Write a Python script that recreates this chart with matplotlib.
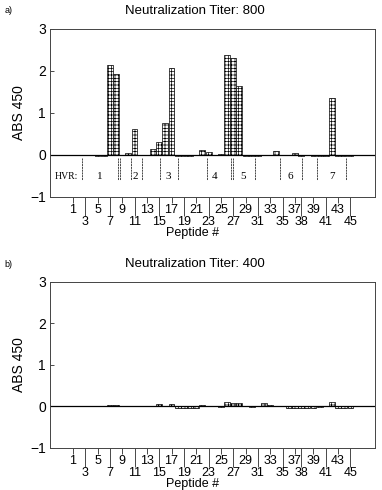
import numpy as np
import matplotlib
matplotlib.use('Agg')
import matplotlib.pyplot as plt

plt.rcParams['font.family'] = ['Liberation Sans', 'DejaVu Sans']
plt.rcParams['hatch.linewidth'] = 0.5

# peptide slots along the x axis (one extra slot after 38)
slots = np.arange(1, 47)

# labelled slots: top row and bottom row of tick labels
top_pos = [1, 5, 9, 13, 17, 21, 25, 29, 33, 37, 40, 44]
top_lab = ['1', '5', '9', '13', '17', '21', '25', '29', '33', '37', '39', '43']
bot_pos = [3, 7, 11, 15, 19, 23, 27, 31, 35, 38, 42, 46]
bot_lab = ['3', '7', '11', '15', '19', '23', '27', '31', '35', '38', '41', '45']

# ABS 450, titer 800
abs_800 = [0.0, 0.0, 0.0, -0.01, -0.02, -0.02, 2.15, 1.93, 0.0, 0.04,
           0.62, 0.0, 0.0, 0.14, 0.32, 0.75, 2.07, -0.02, -0.02, -0.02,
           -0.01, 0.12, 0.06, 0.0, 0.02, 2.37, 2.30, 1.63, -0.03, -0.03,
           -0.03, 0.0, 0.01, 0.10, 0.0, 0.0, 0.05, -0.02, 0.0, -0.03,
           -0.03, -0.02, 1.35, -0.03, -0.03, -0.02]

# ABS 450, titer 400
abs_400 = [0.0, 0.0, 0.0, 0.0, 0.0, 0.0, 0.03, 0.03, 0.0, 0.0,
           0.02, 0.0, 0.0, 0.02, 0.05, 0.0, 0.05, -0.03, -0.03, -0.03,
           -0.03, 0.04, 0.02, 0.0, -0.01, 0.10, 0.09, 0.08, 0.0, -0.02,
           0.0, 0.08, 0.03, 0.02, 0.0, -0.03, -0.03, -0.03, -0.03, -0.03,
           -0.02, 0.0, 0.10, -0.04, -0.04, -0.03]

# hypervariable regions: boundaries and label centres
hvr_bounds = [2.5, 8.3, 8.6, 10.4, 12.2, 15.1, 18.0, 22.7, 26.6, 26.9,
              30.5, 34.5, 38.1, 40.5, 45.2]
hvr_names = ['1', '2', '3', '4', '5', '6', '7']
hvr_centres = [5.4, 11.2, 16.4, 24.0, 28.6, 36.3, 43.1]

fig = plt.figure(figsize=(3.82, 4.90), dpi=100)


def panel(rect, vals):
    ax = fig.add_axes(rect)
    ax.bar(slots, vals, width=0.95, color='white', edgecolor='black',
           hatch='+++++', linewidth=0.5)
    ax.axhline(0, color='black', linewidth=0.9)
    ax.set_xlim(-2.7, 50)
    ax.set_ylim(-1, 3)
    ax.set_yticks([-1, 0, 1, 2, 3])
    ax.set_yticklabels(['\u22121', '0', '1', '2', '3'])
    ax.tick_params(axis='y', direction='in', length=3, width=0.5,
                   labelsize=10, pad=3)
    ax.set_xticks(top_pos)
    ax.set_xticklabels(top_lab)
    ax.set_xticks(bot_pos, minor=True)
    ax.set_xticklabels(bot_lab, minor=True)
    ax.tick_params(axis='x', which='major', direction='out', length=4,
                   width=0.5, labelsize=9, pad=1)
    ax.tick_params(axis='x', which='minor', direction='out', length=14,
                   width=0.5, labelsize=9, pad=0)
    for s in ax.spines.values():
        s.set_linewidth(0.7)
        s.set_color('#444444')
    ax.set_ylabel('ABS 450', fontsize=10)
    ax.yaxis.set_label_coords(-0.075, 0.5)
    return ax


ax1 = panel([0.131, 0.598, 0.851, 0.343], abs_800)
ax1.text(0.0, -0.52, 'HVR:', family='Liberation Serif', fontsize=7,
         ha='center', va='center')
for xb in hvr_bounds:
    ax1.plot([xb, xb], [-0.07, -0.6], color='black', linewidth=0.5,
             linestyle=(0, (3, 1)))
for name, xc in zip(hvr_names, hvr_centres):
    ax1.text(xc, -0.52, name, family='Liberation Serif', fontsize=8,
             ha='center', va='center')

ax2 = panel([0.131, 0.086, 0.851, 0.339], abs_400)

fig.text(0.51, 0.978, 'Neutralization Titer: 800', fontsize=9.5,
         ha='center', va='center')
fig.text(0.51, 0.461, 'Neutralization Titer: 400', fontsize=9.5,
         ha='center', va='center')
fig.text(0.012, 0.978, 'a)', fontsize=6.5, ha='left', va='center')
fig.text(0.012, 0.461, 'b)', fontsize=6.5, ha='left', va='center')
fig.text(0.505, 0.524, 'Peptide #', fontsize=9, ha='center', va='center')
fig.text(0.505, 0.0, 'Peptide #', fontsize=9, ha='center', va='bottom')

fig.savefig('out.png', dpi=100)
